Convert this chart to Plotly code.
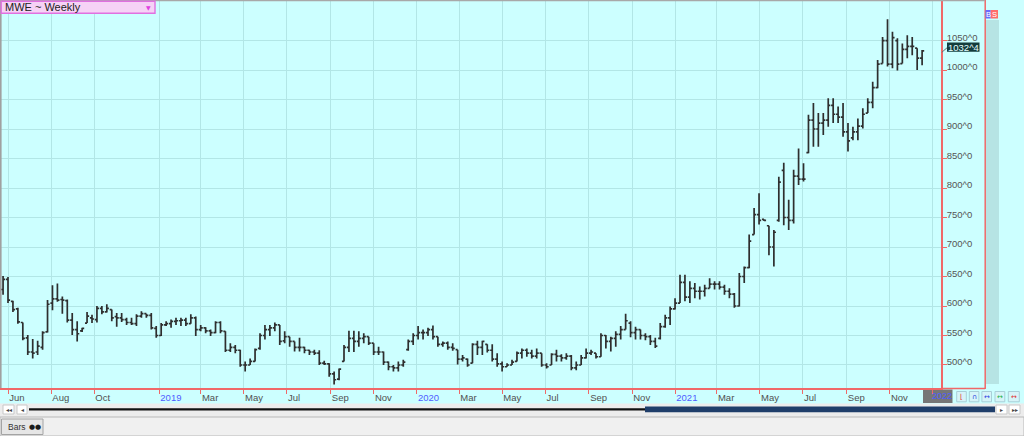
import plotly.graph_objects as go
import pandas as pd

# ---------------- data (weekly MWE bars) ----------------
week_ending = pd.date_range("2018-05-25", periods=187, freq="7D")

opens = [
    628, 645, 608, 595, 572, 546, 522, 522, 530, 556,
    605, 612, 611, 609, 576, 560, 558, 571, 580, 577,
    596, 590, 594, 582, 580, 577, 572, 570, 583, 587,
    584, 562, 550, 568, 570, 574, 575, 576, 570, 580,
    560, 563, 558, 555, 572, 557, 525, 530, 525, 500,
    500, 506, 528, 550, 560, 563, 568, 541, 548, 540,
    530, 530, 525, 522, 520, 503, 502, 485, 476, 506,
    530, 545, 540, 545, 548, 537, 522, 522, 505, 497,
    495, 500, 526, 540, 550, 555, 555, 560, 548, 535,
    537, 530, 526, 510, 510, 503, 535, 530, 535, 525,
    510, 502, 497, 500, 506, 520, 525, 520, 515, 520,
    500, 500, 518, 515, 512, 515, 495, 500, 512, 520,
    520, 514, 550, 540, 545, 552, 560, 571, 555, 560,
    550, 548, 540, 545, 565, 580, 595, 605, 640, 615,
    630, 625, 625, 630, 637, 637, 632, 625, 620, 600,
    650, 665, 721, 755, 747, 736, 700, 745, 830, 750,
    745, 820, 815, 860, 915, 900, 910, 915, 940, 925,
    920, 895, 885, 895, 905, 927, 945, 970, 1011, 1050,
    1010, 1050, 1011, 1035, 1040, 1037, 1020,
]
highs = [
    651, 649, 609, 597, 572, 551, 544, 541, 557, 610,
    635, 638, 616, 611, 588, 574, 563, 590, 585, 600,
    600, 603, 594, 588, 588, 580, 580, 586, 591, 587,
    588, 566, 571, 574, 577, 580, 580, 580, 586, 582,
    568, 564, 560, 574, 574, 557, 537, 534, 526, 506,
    511, 528, 554, 568, 568, 572, 568, 557, 548, 540,
    546, 531, 526, 526, 525, 507, 503, 489, 494, 534,
    558, 558, 557, 554, 548, 537, 531, 523, 506, 500,
    506, 509, 543, 554, 566, 560, 563, 567, 548, 540,
    540, 537, 526, 517, 511, 537, 541, 541, 535, 535,
    520, 506, 503, 509, 523, 528, 528, 526, 528, 520,
    503, 520, 526, 518, 520, 517, 506, 517, 528, 526,
    520, 554, 551, 548, 557, 566, 587, 574, 565, 560,
    554, 551, 546, 571, 585, 599, 613, 653, 653, 642,
    639, 633, 636, 647, 642, 642, 636, 630, 622, 656,
    667, 721, 766, 791, 747, 736, 729, 819, 843, 780,
    831, 867, 842, 924, 944, 927, 927, 952, 952, 938,
    944, 910, 904, 918, 935, 952, 980, 1017, 1056, 1086,
    1065, 1054, 1045, 1059, 1056, 1037, 1034,
]
lows = [
    619, 605, 590, 570, 542, 517, 511, 517, 526, 555,
    593, 607, 587, 572, 551, 540, 556, 571, 571, 572,
    586, 589, 574, 565, 573, 568, 568, 566, 580, 580,
    560, 546, 549, 566, 563, 568, 566, 566, 570, 549,
    557, 554, 549, 554, 554, 522, 522, 520, 497, 489,
    500, 506, 526, 543, 549, 557, 534, 537, 531, 523,
    523, 520, 517, 517, 500, 500, 480, 467, 474, 506,
    522, 522, 531, 537, 534, 517, 517, 500, 491, 489,
    489, 497, 524, 534, 543, 543, 549, 543, 531, 531,
    526, 524, 501, 506, 497, 503, 517, 517, 521, 506,
    497, 489, 497, 500, 506, 511, 514, 511, 511, 497,
    494, 500, 506, 506, 509, 491, 491, 500, 511, 517,
    511, 514, 528, 523, 531, 543, 560, 547, 543, 543,
    542, 534, 529, 543, 563, 568, 594, 605, 608, 605,
    613, 611, 616, 630, 628, 628, 619, 613, 597, 599,
    639, 664, 721, 738, 744, 686, 667, 743, 737, 729,
    740, 805, 811, 859, 870, 870, 890, 904, 910, 910,
    887, 862, 881, 881, 901, 927, 935, 969, 1011, 1006,
    1003, 999, 1011, 1020, 1025, 1000, 1008,
]
closes = [
    645, 610, 594, 573, 545, 522, 520, 532, 555, 603,
    612, 610, 610, 576, 560, 553, 562, 583, 578, 596,
    590, 596, 580, 580, 577, 572, 570, 583, 587, 584,
    563, 550, 568, 570, 574, 575, 576, 570, 580, 560,
    563, 558, 555, 572, 558, 525, 530, 525, 500, 500,
    506, 526, 550, 560, 563, 568, 540, 548, 540, 530,
    530, 525, 522, 520, 503, 502, 485, 475, 493, 530,
    545, 540, 545, 548, 537, 522, 522, 505, 497, 495,
    500, 505, 540, 550, 555, 555, 560, 548, 535, 537,
    530, 528, 510, 512, 500, 535, 530, 540, 525, 510,
    502, 497, 500, 505, 520, 525, 520, 515, 520, 500,
    497, 518, 515, 512, 515, 495, 500, 512, 520, 522,
    514, 550, 540, 545, 552, 560, 575, 555, 560, 550,
    548, 540, 532, 565, 580, 595, 605, 640, 615, 630,
    625, 625, 630, 637, 637, 632, 625, 620, 600, 650,
    665, 710, 755, 745, 745, 700, 725, 810, 750, 745,
    820, 815, 815, 915, 900, 910, 915, 940, 925, 920,
    895, 880, 895, 905, 925, 945, 970, 1010, 1050, 1010,
    1055, 1010, 1035, 1040, 1040, 1020, 1032.5,
]

tick_dates = ["2018-06-01", "2018-08-01", "2018-10-01", "2019-01-01", "2019-03-01",
              "2019-05-01", "2019-07-01", "2019-09-01", "2019-11-01", "2020-01-01",
              "2020-03-01", "2020-05-01", "2020-07-01", "2020-09-01", "2020-11-01",
              "2021-01-01", "2021-03-01", "2021-05-01", "2021-07-01", "2021-09-01",
              "2021-11-01", "2022-01-01"]
tick_labels = ["Jun", "Aug", "Oct", "2019", "Mar", "May", "Jul", "Sep", "Nov", "2020",
               "Mar", "May", "Jul", "Sep", "Nov", "2021", "Mar", "May", "Jul", "Sep",
               "Nov", "2022"]
price_ticks = [500, 550, 600, 650, 700, 750, 800, 850, 900, 950, 1000, 1050]
price_labels = ["500^0", "550^0", "600^0", "650^0", "700^0", "750^0", "800^0",
                "850^0", "900^0", "950^0", "1000^0", "1050^0"]
last_price_label = "1032^4"
chart_title = "MWE ~ Weekly"

# ---------------- styling ----------------
FONT = "Liberation Sans, Arial, sans-serif"
BG = "#ccffff"
GRID = "#b2e6e6"
RED = "#f06868"
YEAR_BLUE = "#4f5cff"

PLOT_W = 941.0   # plot area width in px (left margin 0)
PLOT_T = 1.0     # top of plot area in px
PLOT_B = 388.0   # bottom of plot area in px


def fx(px):
    return px / PLOT_W


def fy(py):
    return (PLOT_B - py) / (PLOT_B - PLOT_T)


def fmt_tick(t):
    return f"<span style='color:{YEAR_BLUE}'>{t}</span>" if t.isdigit() else t


# the last (current-period) label is drawn separately on its grey box
tick_text = [fmt_tick(t) for t in tick_labels[:-1]] + [""]

# x range: Jun 1 2018 sits 8 px in, 2022-01-01 at 932.7 px
px_per_day = (932.7 - 8.0) / (pd.Timestamp("2022-01-01") - pd.Timestamp("2018-06-01")).days
x_start = pd.Timestamp("2018-06-01") - pd.Timedelta(days=8.0 / px_per_day)
x_end = x_start + pd.Timedelta(days=PLOT_W / px_per_day)

fig = go.Figure()
fig.add_trace(go.Ohlc(
    x=week_ending, open=opens, high=highs, low=lows, close=closes,
    increasing=dict(line=dict(color="#2e2e2e", width=1.7)),
    decreasing=dict(line=dict(color="#2e2e2e", width=1.7)),
    tickwidth=0.42, hoverinfo="skip", showlegend=False,
))

shapes = []


def rect(x0, y0, x1, y1, fill, line=None, lw=1, layer="below"):
    shapes.append(dict(type="rect", xref="paper", yref="paper",
                       x0=fx(x0), x1=fx(x1), y0=fy(y1), y1=fy(y0),
                       fillcolor=fill, line=dict(color=line or fill, width=lw if line else 0),
                       layer=layer))


def hline(x0, x1, y, color, w=1, layer="above"):
    shapes.append(dict(type="line", xref="paper", yref="paper",
                       x0=fx(x0), x1=fx(x1), y0=fy(y), y1=fy(y),
                       line=dict(color=color, width=w), layer=layer))


def vline(x, y0, y1, color, w=1, layer="above"):
    shapes.append(dict(type="line", xref="paper", yref="paper",
                       x0=fx(x), x1=fx(x), y0=fy(y0), y1=fy(y1),
                       line=dict(color=color, width=w), layer=layer))


def note(px, py, text, size, color, anchor="center", family=FONT):
    return dict(x=fx(px), y=fy(py), xref="paper", yref="paper", text=text,
                showarrow=False, xanchor=anchor, yanchor="middle",
                font=dict(family=family, size=size, color=color))


# right-hand strip and frame lines
rect(986, 20, 999, 384, "#b6e4e4")
vline(985.2, 0, 389, RED, 1.5)
hline(941, 985, 388.6, RED, 1.5)
vline(0.8, 0, 388, "#a0a0a0", 1.6)
hline(0, 985, 0.6, "#a8a8a8", 1.2)

# "2022" current-period box
rect(923, 389.5, 952.5, 403, "#767676")

# bottom-right mini buttons
btn_x = [(956.7, 966.3), (969.3, 978.9), (981.9, 991.5), (995, 1004.8), (1008.3, 1019.3)]
for a, b in btn_x:
    rect(a, 391.5, b, 401.8, "#d6f4f8", "#a8cfd8", 1)

# scrollbar
rect(0, 403.5, 1024, 417, "#ececec")
for a, b in [(3, 14), (17, 27), (996, 1007), (1009, 1020)]:
    rect(a, 405, b, 414, "#ffffff", "#c8c8c8", 1)
rect(29, 408.2, 645, 410.4, "#111111")
rect(645, 406.6, 995, 412.3, "#1f3e6a")

# bottom tab strip
rect(0, 417, 1024, 436, "#f0f0f0", "#b8b8b8", 1)
rect(1.5, 419, 43, 434.5, "#e6e6e6", "#a4a4a4", 1)

# title box (top left)
rect(1.2, 1.2, 155, 13.2, "#f6d2f6", "#e070e0", 1.4, layer="above")

# B / S buttons
rect(985.5, 10, 990.7, 18.5, "#6b6bff", layer="above")
rect(990.7, 10, 998, 18.5, "#ff6b6b", layer="above")

# last-price label box + connector
rect(947, 42.5, 979.5, 51.8, "#133c3c", layer="above")
shapes.append(dict(type="line", xref="paper", yref="paper",
                   x0=fx(941.8), y0=fy(52.3), x1=fx(947), y1=fy(47.8),
                   line=dict(color="#607070", width=1), layer="above"))

annotations = [
    note(3, 7.4, chart_title, 11, "#222222", "left"),
    note(148, 7.5, "▼", 6, "#e040e0", family="DejaVu Sans"),
    note(988.1, 14.3, "B", 7.5, "#ffffff"),
    note(994.4, 14.3, "S", 7.5, "#ffffff"),
    note(963.2, 47.2, last_price_label, 9.5, "#e6ffff"),
    note(6, 427, "Bars", 8.5, "#333333", "left"),
    note(26.5, 427, "●●", 7, "#1a1a1a", "left", "DejaVu Sans"),
    dict(x=tick_dates[-1], xref="x", y=fy(396.4), yref="paper",
         text=tick_labels[-1], showarrow=False, xanchor="left", yanchor="middle",
         xshift=-3, font=dict(family=FONT, size=9, color=YEAR_BLUE)),
]
for cx, txt in [(8.5, "◂◂"), (22, "◂"), (1001.5, "▸"), (1014.5, "▸▸")]:
    annotations.append(note(cx, 409.6, txt, 6, "#444444", family="DejaVu Sans"))
for (a, b), (g, c) in zip(btn_x, [("⌊", "#e03030"), ("∩", "#3040e0"), ("↔", "#3040e0"),
                                   ("↔", "#20b040"), ("↔", "#e03030")]):
    annotations.append(note((a + b) / 2, 396.6, g, 7, c, family="DejaVu Sans"))

fig.update_layout(
    width=1024, height=436,
    margin=dict(l=0, r=1024 - PLOT_W, t=PLOT_T, b=436 - PLOT_B, autoexpand=False),
    paper_bgcolor=BG, plot_bgcolor=BG,
    showlegend=False,
    shapes=shapes, annotations=annotations,
    xaxis=dict(
        type="date", range=[x_start, x_end], rangeslider=dict(visible=False),
        tickmode="array", tickvals=tick_dates, ticktext=tick_text,
        showgrid=True, gridcolor=GRID, gridwidth=1,
        showline=True, linecolor=RED, linewidth=1.5,
        ticks="outside", ticklen=4, tickcolor=RED, tickwidth=1,
        ticklabelposition="outside right",
        tickfont=dict(family=FONT, size=9.5, color="#505050"),
        zeroline=False, fixedrange=True, automargin=False,
    ),
    yaxis=dict(
        side="right", range=[461, 1117],
        tickmode="array", tickvals=price_ticks, ticktext=price_labels,
        showgrid=True, gridcolor=GRID, gridwidth=1,
        showline=True, linecolor=RED, linewidth=1.5,
        ticks="outside", ticklen=4, tickcolor=RED, tickwidth=1,
        ticklabelshift=-3, ticklabelstandoff=-2,
        tickfont=dict(family=FONT, size=9.5, color="#555555"),
        zeroline=False, fixedrange=True, automargin=False,
    ),
)

fig.write_html("out.html", config=dict(displayModeBar=False),
               post_script="document.body.style.margin='0px';document.body.style.overflow='hidden';")
